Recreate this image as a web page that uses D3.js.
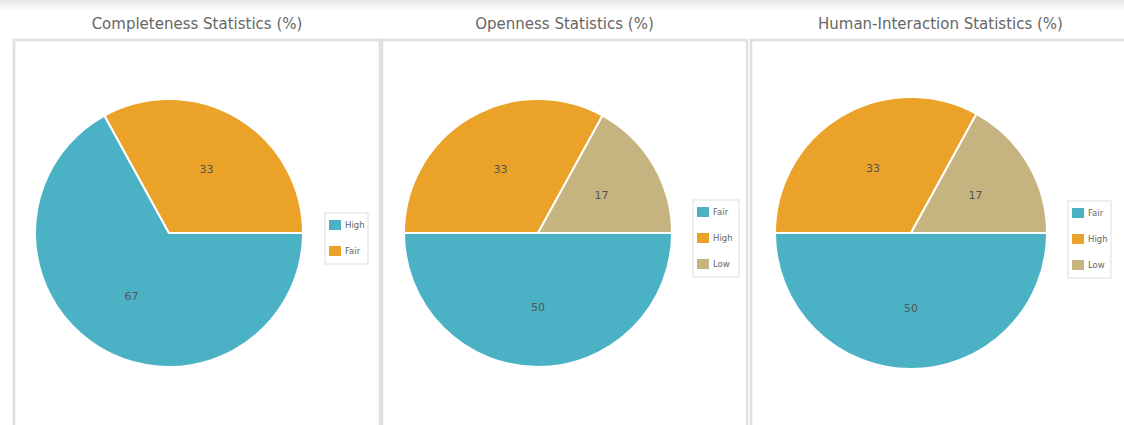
<!DOCTYPE html>
<html lang="en">
<head>
    <meta charset="UTF-8">
    <script src="https://d3js.org/d3.v7.min.js"></script>
    <title>Statistics</title>
    <style>
        body { margin: 0; background: #fff; }
    </style>
</head>
<body>
    <div id="container"></div>
    <script>
        // data
        const titles = ["Completeness Statistics (%)", "Openness Statistics (%)", "Human-Interaction Statistics (%)"];
        const completenessCats = ["High", "Fair"];
        const completenessValues = [67, 33];
        const opennessCats = ["Fair", "High", "Low"];
        const opennessValues = [50, 33, 17];
        const humanCats = ["Fair", "High", "Low"];
        const humanValues = [50, 33, 17];
        const seriesColors = ["#4bb2c5", "#eaa228", "#c5b47f"];

        const width = 1124, height = 425;
        const svg = d3.select("#container")
            .append("svg")
            .attr("width", width)
            .attr("height", height);

        // soft shadow at the top
        const defs = svg.append("defs");
        const grad = defs.append("linearGradient")
            .attr("id", "topShade")
            .attr("x1", 0).attr("y1", 0).attr("x2", 0).attr("y2", 1);
        grad.append("stop").attr("offset", "0%").attr("stop-color", "#e6e6e6");
        grad.append("stop").attr("offset", "100%").attr("stop-color", "#fff");
        svg.append("rect")
            .attr("x", 0).attr("y", 0)
            .attr("width", width).attr("height", 12)
            .attr("fill", "url(#topShade)");

        const panels = [
            { cats: completenessCats, values: completenessValues, x0: 14, x1: 380, top: 40, cx: 169, cy: 233, r: 134, lx: 325, ly: 213, lw: 43 },
            { cats: opennessCats, values: opennessValues, x0: 382, x1: 747, top: 40, cx: 538, cy: 233, r: 134, lx: 693, ly: 200, lw: 46 },
            { cats: humanCats, values: humanValues, x0: 751, x1: 1130, top: 40, cx: 911, cy: 233, r: 136, lx: 1068, ly: 201, lw: 43 }
        ];

        const color = d3.scaleOrdinal().domain([0, 1, 2]).range(seriesColors);

        panels.forEach((p, k) => {
            const g = svg.append("g");

            // panel border
            g.append("path")
                .attr("d", `M${p.x0},${height + 2} L${p.x0},${p.top} L${p.x1},${p.top} L${p.x1},${height + 2}`)
                .attr("fill", "none")
                .attr("stroke", "#e0e0e0")
                .attr("stroke-width", 2.5);

            // title
            g.append("text")
                .attr("x", (p.x0 + p.x1) / 2)
                .attr("y", 29)
                .attr("text-anchor", "middle")
                .attr("font-family", "DejaVu Sans, Verdana, sans-serif")
                .attr("font-size", 15)
                .attr("fill", "#666")
                .text(titles[k]);

            const pie = d3.pie()
                .sort(null)
                .startAngle(Math.PI / 2)
                .endAngle(Math.PI / 2 + 2 * Math.PI);
            const arcs = pie(p.values);
            const arc = d3.arc().innerRadius(0).outerRadius(p.r);
            const labelArc = d3.arc().innerRadius(p.r * 0.55).outerRadius(p.r * 0.55);

            const pg = g.append("g")
                .attr("transform", `translate(${p.cx},${p.cy})`);
            pg.selectAll("path")
                .data(arcs)
                .enter()
                .append("path")
                .attr("d", arc)
                .attr("fill", (d, i) => color(i))
                .attr("stroke", "#fff")
                .attr("stroke-width", 2);
            pg.selectAll("text")
                .data(arcs)
                .enter()
                .append("text")
                .attr("transform", d => {
                    const c = labelArc.centroid(d);
                    return `translate(${c[0]},${c[1]})`;
                })
                .attr("text-anchor", "middle")
                .attr("dy", "0.35em")
                .attr("font-family", "DejaVu Sans, Verdana, sans-serif")
                .attr("font-size", 11)
                .attr("fill", "#555")
                .text(d => d.data);

            // legend
            const rowH = 26;
            const lg = g.append("g")
                .attr("transform", `translate(${p.lx},${p.ly})`);
            lg.append("rect")
                .attr("width", p.lw)
                .attr("height", p.cats.length * rowH - 1)
                .attr("fill", "#fff")
                .attr("stroke", "#ddd")
                .attr("stroke-width", 1);
            const items = lg.selectAll("g")
                .data(p.cats)
                .enter()
                .append("g")
                .attr("transform", (d, i) => `translate(4,${7 + i * rowH})`);
            items.append("rect")
                .attr("width", 12)
                .attr("height", 10)
                .attr("fill", (d, i) => color(i));
            items.append("text")
                .attr("x", 16)
                .attr("y", 8)
                .attr("font-family", "DejaVu Sans, Verdana, sans-serif")
                .attr("font-size", 8.5)
                .attr("fill", "#666")
                .text(d => d);
        });
    </script>
</body>
</html>
